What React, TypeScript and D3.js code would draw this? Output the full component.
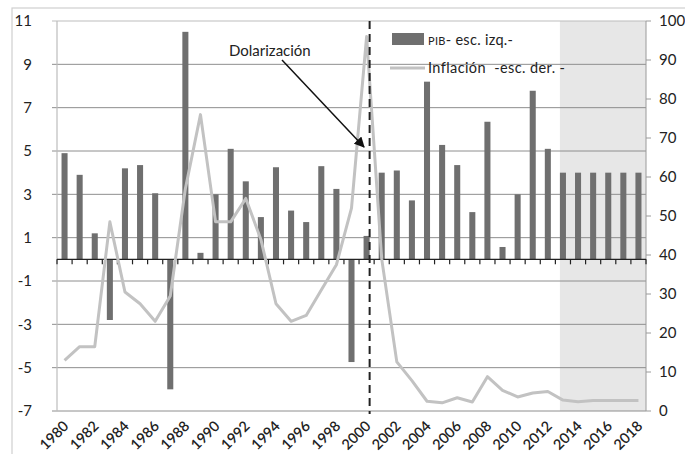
import React from "react";
import * as d3 from "d3";

const years: number[] = d3.range(1980, 2019);
const pib: number[] = [
  4.9, 3.9, 1.2, -2.8, 4.2, 4.35, 3.05, -6.0, 10.5, 0.3,
  3.0, 5.1, 3.6, 1.95, 4.25, 2.25, 1.72, 4.3, 3.25, -4.74,
  1.08, 4.0, 4.1, 2.72, 8.2, 5.28, 4.35, 2.18, 6.35, 0.57,
  3.0, 7.78, 5.1, 4.0, 4.0, 4.0, 4.0, 4.0, 4.0,
];
const inflacion: number[] = [
  13, 16.5, 16.5, 48.5, 30.5, 27.5, 23, 29.5, 57, 76,
  48.5, 48.5, 54.5, 44, 27.5, 23, 24.5, 31, 37.5, 52,
  96, 39, 12.6, 7.8, 2.5, 2.1, 3.4, 2.3, 8.8, 5.3,
  3.6, 4.6, 5.0, 2.8, 2.4, 2.7, 2.7, 2.7, 2.7,
];
const leftTicks: number[] = [11, 9, 7, 5, 3, 1, -1, -3, -5, -7];
const rightTicks: number[] = [0, 10, 20, 30, 40, 50, 60, 70, 80, 90, 100];
const labelYears: number[] = years.filter((y) => (y - 1980) % 2 === 0);
const shadeStart = 2013;
const eventYear = 2000;

const W = 685;
const H = 454;
const L = 57;
const R = 646;
const T = 21;
const B = 411;
const FONT = "Lato, 'Open Sans', sans-serif";

export default function App() {
  const x = d3
    .scaleBand<number>()
    .domain(years)
    .range([L, R])
    .paddingInner(0.6)
    .paddingOuter(0.3);
  const yL = d3.scaleLinear().domain([-7, 11]).range([B, T]);
  const yR = d3.scaleLinear().domain([0, 100]).range([B, T]);
  const bw = x.bandwidth();
  const cx = (yr: number) => (x(yr) as number) + bw / 2;
  const step = x.step();

  const line = d3
    .line<number>()
    .x((_, i) => cx(years[i]))
    .y((d) => yR(d));

  const y0 = yL(0);
  const boundaries = d3.range(0, years.length + 1).map((i) => L + i * step);
  const dashX = (x(eventYear) as number) + bw;

  return (
    <svg
      width={W}
      height={H}
      style={{ position: "absolute", left: 0, top: 0, background: "#fff" }}
      fontFamily={FONT}
    >
      <defs>
        <marker
          id="arr"
          viewBox="0 0 10 10"
          refX="9"
          refY="5"
          markerWidth="7"
          markerHeight="7"
          orient="auto"
        >
          <path d="M0,0 L10,5 L0,10 z" fill="#111" />
        </marker>
      </defs>
      <rect x={12} y={8} width={W} height={H} fill="none" stroke="#cfcfcf" strokeWidth={1.2} />
      {/* shaded projection area */}
      <rect
        x={x(shadeStart) as number}
        y={T}
        width={R - (x(shadeStart) as number)}
        height={B - T}
        fill="#e7e7e7"
      />
      {/* gridlines */}
      {leftTicks.map((t) => (
        <line
          key={"g" + t}
          x1={L - 5}
          x2={R}
          y1={yL(t)}
          y2={yL(t)}
          stroke={t === 11 ? "#bdbdbd" : "#8e8e8e"}
          strokeWidth={1}
        />
      ))}
      <line x1={L} x2={L} y1={T} y2={B} stroke="#bdbdbd" strokeWidth={1.2} />
      <line x1={R} x2={R} y1={T} y2={B} stroke="#9a9a9a" strokeWidth={1} />
      {rightTicks.map((t) => (
        <line key={"rt" + t} x1={R} x2={R + 5} y1={yR(t)} y2={yR(t)} stroke="#9a9a9a" />
      ))}
      {/* bars */}
      {pib.map((v, i) => (
        <rect
          key={"b" + i}
          x={x(years[i]) as number}
          y={Math.min(yL(v), y0)}
          width={bw}
          height={Math.abs(yL(v) - y0)}
          fill="#6f6f6f"
        />
      ))}
      {/* zero axis */}
      <line x1={L} x2={R} y1={y0} y2={y0} stroke="#222" strokeWidth={1.3} />
      {boundaries.map((bx, i) => (
        <line key={"tk" + i} x1={bx} x2={bx} y1={y0} y2={y0 + 5} stroke="#222" strokeWidth={1.2} />
      ))}
      {/* inflation line */}
      <path
        d={line(inflacion) || ""}
        fill="none"
        stroke="#c2c2c2"
        strokeWidth={3}
        strokeLinejoin="round"
      />
      {/* dashed event line */}
      <line
        x1={dashX}
        x2={dashX}
        y1={T}
        y2={B + 3}
        stroke="#222"
        strokeWidth={2}
        strokeDasharray="8,5"
      />
      {/* annotation */}
      <text x={229} y={56} fontSize={15} fill="#222">
        Dolarización
      </text>
      <line
        x1={282}
        y1={60}
        x2={364}
        y2={147}
        stroke="#111"
        strokeWidth={1.5}
        markerEnd="url(#arr)"
      />
      {/* legend */}
      <rect x={392} y={33} width={32} height={12} fill="#6f6f6f" />
      <text x={428} y={45} fontSize={14.5} fill="#222" letterSpacing={0.3}>
        <tspan fontSize={11}>PIB</tspan>
        <tspan>- esc. izq.-</tspan>
      </text>
      <line x1={390} x2={425} y1={68} y2={68} stroke="#c2c2c2" strokeWidth={3} />
      <text x={428} y={73} fontSize={14.5} fill="#222" letterSpacing={0.4} style={{ whiteSpace: "pre" }}>
        {"Inflación  -esc. der. -"}
      </text>
      {/* left axis labels */}
      {leftTicks.map((t) => (
        <text
          key={"ll" + t}
          x={32}
          y={yL(t)}
          dy="0.36em"
          textAnchor="end"
          fontSize={15}
          fill="#222"
        >
          {t}
        </text>
      ))}
      {/* right axis labels */}
      {rightTicks.map((t) => (
        <text key={"rl" + t} x={659} y={yR(t)} dy="0.36em" fontSize={15} fill="#222">
          {t}
        </text>
      ))}
      {/* x labels */}
      {labelYears.map((yr) => (
        <text
          key={"xl" + yr}
          transform={`translate(${cx(yr) + 5},${427}) rotate(-45)`}
          textAnchor="end"
          fontSize={14.5}
          fontWeight={600}
          fill="#222"
        >
          {yr}
        </text>
      ))}
    </svg>
  );
}
